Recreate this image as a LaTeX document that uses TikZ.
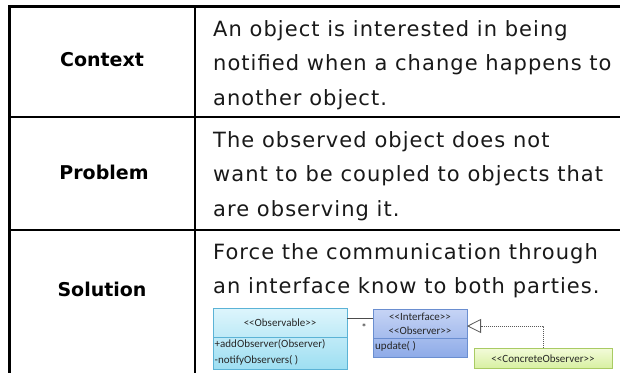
\documentclass[tikz,border=0pt]{standalone}
\usepackage{fontspec}
\setmainfont{DejaVu Sans}
\newfontfamily\bodyfont[LetterSpace=5]{DejaVu Sans}
\newfontfamily\umlfont{Carlito}
\usetikzlibrary{arrows.meta}
\definecolor{obsA}{HTML}{DDF5FC}
\definecolor{obsB}{HTML}{9EDFF2}
\definecolor{obsD}{HTML}{5BB3D6}
\definecolor{intA}{HTML}{C6D4F5}
\definecolor{intB}{HTML}{8EABE8}
\definecolor{intD}{HTML}{6A8ED0}
\definecolor{conA}{HTML}{F3FBDA}
\definecolor{conB}{HTML}{D8F0A2}
\definecolor{conD}{HTML}{A9CB63}
\tikzset{
  grid/.style={line width=2.6pt, black},
  body/.style={anchor=base west, inner sep=0pt, font=\bodyfont\fontsize{21}{24}\selectfont, text=black!90},
  head/.style={inner sep=0pt, font=\fontsize{19}{21}\selectfont\bfseries},
  uml/.style={inner sep=0pt, font=\umlfont\fontsize{11}{12}\selectfont, text=black!85},
}
\begin{document}
\begin{tikzpicture}[x=1pt,y=-1pt]
\useasboundingbox (0,0) rectangle (620,373);
\fill[white] (0,0) rectangle (620,373);
% table grid
\draw[grid] (8.2,6.5) -- (620,6.5);
\draw[grid] (9.5,5.2) -- (9.5,373);
\draw[grid] (195,5.2) -- (195,373);
\draw[grid] (8.2,117) -- (620,117);
\draw[grid] (8.2,230) -- (620,230);
% headings
\node[head] (hctx) at (102,60) {Context};
\node[head] (hprob) at (104,172) {Problem};
\node[head] (hsol) at (102,289) {Solution};
% body text
\node[body] (c1) at (213,36) {An object is interested in being};
\node[body] (c2) at (213,70) {notified when a change happens to};
\node[body] (c3) at (213,105) {another object.};
\node[body] (p1) at (213,147) {The observed object does not};
\node[body] (p2) at (213,181) {want to be coupled to objects that};
\node[body] (p3) at (213,216) {are observing it.};
\node[body] (s1) at (213,259) {Force the communication through};
\node[body] (s2) at (213,293) {an interface know to both parties.};
% UML: Observable
\shade[top color=obsA, bottom color=obsB] (213,308) rectangle (347,369);
\draw[obsD, line width=0.7pt] (213,308) rectangle (347,369);
\draw[obsD, line width=0.7pt] (213,337) -- (347,337);
\coordinate (obsR) at (347,318);
\node[uml] (obsT) at (280,323) {<<Observable>>};
\node[uml, anchor=west] (obs1) at (214.5,344) {+addObserver(Observer)};
\node[uml, anchor=west] (obs2) at (214.5,360) {-notifyObservers( )};
% UML: Observer interface
\shade[top color=intA, bottom color=intB] (373,309) rectangle (467,357);
\draw[intD, line width=0.7pt] (373,309) rectangle (467,357);
\draw[intD, line width=0.7pt] (373,338) -- (467,338);
\coordinate (intL) at (373,318);
\coordinate (intR) at (467,326);
\node[uml] (intT1) at (420,317) {<<Interface>>};
\node[uml] (intT2) at (420,331) {<<Observer>>};
\node[uml, anchor=west] (int1) at (375,346) {update( )};
% UML: concrete observer
\shade[top color=conA, bottom color=conB] (474,348) rectangle (612,368);
\draw[conD, line width=0.7pt] (474,348) rectangle (612,368);
\node[uml] (conT) at (543,358.5) {<<ConcreteObserver>>};
\coordinate (conTop) at (543,348);
% connectors
\draw[black!70, line width=0.8pt] (obsR) -- (intL);
\node[uml, font=\umlfont\fontsize{11}{11}\selectfont] (star) at (364,328) {*};
\draw[black!65, line width=0.7pt, dash pattern=on 1.2pt off 0.8pt, -{Triangle[open, length=14pt, width=14pt, line width=0.8pt]}]
  (conTop) |- (intR);
\end{tikzpicture}
\end{document}
